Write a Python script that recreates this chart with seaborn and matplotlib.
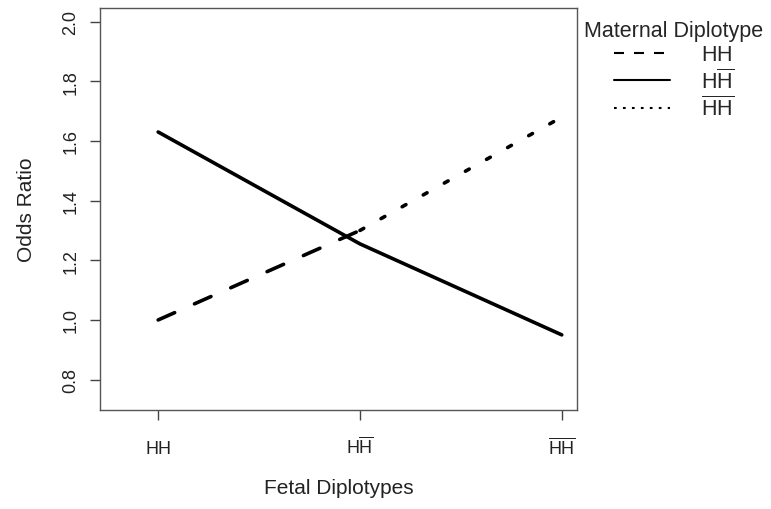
import pandas as pd
import seaborn as sns
import matplotlib.pyplot as plt
from matplotlib.lines import Line2D

# odds ratios, by maternal diplotype
fetal_labels = [r"$\mathregular{HH}$", r"$\mathregular{H\overline{H}}$", r"$\mathregular{\overline{HH}}$"]
maternal_labels = [r"$\mathregular{HH}$", r"$\mathregular{H\overline{H}}$", r"$\mathregular{\overline{HH}}$"]

hh_pos = [0, 1]
hh_or = [1.00, 1.30]
hhb_pos = [0, 1, 2]
hhb_or = [1.63, 1.255, 0.95]
hbhb_pos = [1, 2]
hbhb_or = [1.30, 1.68]

yticks = [0.8, 1.0, 1.2, 1.4, 1.6, 1.8, 2.0]

df = pd.concat([
    pd.DataFrame({"pos": hh_pos, "odds": hh_or, "maternal": "hh"}),
    pd.DataFrame({"pos": hhb_pos, "odds": hhb_or, "maternal": "hhb"}),
    pd.DataFrame({"pos": hbhb_pos, "odds": hbhb_or, "maternal": "hbhb"}),
])

sns.set_style("white")
plt.rcParams['font.family'] = ['Liberation Sans', 'DejaVu Sans']
plt.rcParams['mathtext.fontset'] = 'custom'
plt.rcParams['mathtext.rm'] = 'Liberation Sans'

fig, ax = plt.subplots(figsize=(7.71, 5.10), dpi=100)
fig.subplots_adjust(left=0.130, right=0.748, bottom=0.194, top=0.982)

sns.lineplot(data=df, x="pos", y="odds", style="maternal", color="black",
             lw=2.6, legend=False, ax=ax, errorbar=None,
             style_order=["hh", "hhb", "hbhb"],
             dashes={"hh": (5, 6), "hhb": "", "hbhb": (1.2, 5.5)})
for ln in ax.lines:
    ln.set_dash_capstyle("round")
    ln.set_solid_capstyle("round")

ax.set_xlim(-0.287, 2.074)
ax.set_ylim(0.698, 2.045)
ax.set_xticks([0, 1, 2])
ax.set_xticklabels(fetal_labels, va="baseline")
ax.set_yticks(yticks)
ax.set_yticklabels([f"{v:.1f}" for v in yticks], rotation=90, va="center")
ax.tick_params(axis="both", direction="out", length=7, width=1, color="#444",
               labelsize=13, labelcolor="#222", bottom=True, left=True)
ax.tick_params(axis="x", pad=24)
ax.tick_params(axis="y", pad=8)
for s in ax.spines.values():
    s.set_color("#555")
    s.set_linewidth(1)

ax.set_xlabel("Fetal Diplotypes", fontsize=15, color="#222")
ax.set_ylabel("Odds Ratio", fontsize=15, color="#222")
ax.xaxis.set_label_coords(0.5, -0.169)
ax.yaxis.set_label_coords(-0.134, 0.5)

handles = [
    Line2D([], [], color="black", lw=1.5, dashes=(4.8, 4.8)),
    Line2D([], [], color="black", lw=1.5),
    Line2D([], [], color="black", lw=1.5, dashes=(1.3, 3)),
]
fig.legend(handles, maternal_labels, title="Maternal Diplotype",
           loc="upper center", bbox_to_anchor=(0.874, 0.997), frameon=False,
           fontsize=15.5, title_fontsize=15.5, handlelength=2.6,
           handletextpad=1.45, labelspacing=0.15)

plt.savefig("out.png")
